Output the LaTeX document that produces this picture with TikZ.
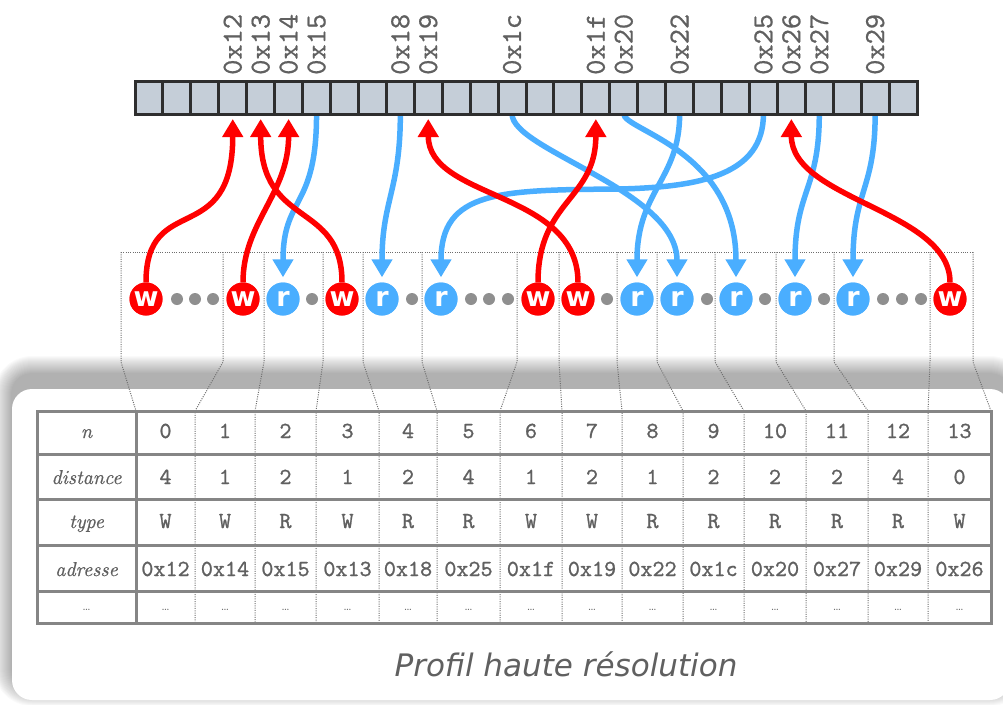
\documentclass[tikz,border=0pt]{standalone}
\usepackage{fontspec}
\newfontfamily\dejavu{DejaVu Sans}[ItalicFont={DejaVu Sans Oblique},BoldFont={DejaVu Sans Bold}]
\newfontfamily\codefont{lmmono10-regular.otf}[FakeBold=1]
\newfontfamily\labfont{lmmono10-regular.otf}[FakeBold=0.6]
\newfontfamily\headfont{lmroman10-italic.otf}[FakeBold=0.6]
\usetikzlibrary{arrows.meta}
\definecolor{wred}{HTML}{FF0000}
\definecolor{rblue}{HTML}{4AAEFF}
\definecolor{dotgray}{HTML}{8F8F8F}
\definecolor{cellfill}{HTML}{C5CED8}
\definecolor{cellline}{HTML}{2E2E2E}
\definecolor{txtgray}{HTML}{606060}
\definecolor{tabline}{HTML}{858585}
\definecolor{guide}{HTML}{6E6E6E}
\begin{document}
\begin{tikzpicture}[x=1pt,y=-1pt,
  memcell/.style={draw=cellline, fill=cellfill, line width=3pt, minimum width=27.93pt, minimum height=33pt, inner sep=0pt, outer sep=0pt},
  addr/.style={rotate=90, anchor=west, inner sep=0pt, text=txtgray, font=\fontsize{29}{29}\selectfont\labfont},
  wop/.style={circle, fill=wred, minimum size=33pt, inner sep=0pt, text=white, font=\fontsize{27}{27}\selectfont\dejavu\bfseries},
  rop/.style={wop, fill=rblue},
  gapdot/.style={circle, fill=dotgray, minimum size=12pt, inner sep=0pt},
  warrow/.style={draw=wred, line width=5.5pt, -{Triangle[length=18pt,width=20pt]}, shorten >=5pt},
  rarrow/.style={warrow, draw=rblue},
  guideline/.style={draw=guide, line width=1pt, dash pattern=on 1pt off 1.3pt},
  tabrule/.style={draw=tabline, line width=3pt},
  cellnum/.style={anchor=base, text=txtgray, font=\fontsize{23}{23}\selectfont\codefont, inner sep=0pt},
  headtxt/.style={anchor=base, text=txtgray, font=\fontsize{20}{20}\selectfont\headfont, inner sep=0pt},
  elli/.style={anchor=base, text=txtgray, font=\fontsize{13}{13}\selectfont, inner sep=0pt},
]
\useasboundingbox (0,0) rectangle (1003,704);

% panel with shadow
\foreach \k in {1,...,18}{
  \fill[black, opacity=0.02, rounded corners={20pt+\k pt}] ({12-\k},{374-\k}) rectangle ({1010+\k},{688+\k});
}
\fill[white, rounded corners=20pt] (12,389) rectangle (1010,700);

% guide lines
\draw[guideline] (121,252) -- (973,252);
\draw[guideline] (121,252) -- (121,362) -- (136,411);
\draw[guideline] (973,252) -- (973,362) -- (991,411);
\foreach \xt/\xb in {223/195, 264/255, 323/316, 363/379, 422/437, 517/500, 559/562, 617/622, 657/683, 715/744, 776/806, 834/868, 930/928}{
  \draw[guideline] (\xt,252) -- (\xt,362) -- (\xb,411) -- (\xb,623);
}

% table rules
\draw[tabrule] (37,411) rectangle (991,623);
\foreach \yy in {454,499,545,591}{
  \draw[tabrule] (37,\yy) -- (991,\yy);
}
\draw[tabrule] (136,411) -- (136,623);

% header column
\node[headtxt] (hn) at (86.5,438) {n};
\node[headtxt] (hd) at (86.5,484) {distance};
\node[headtxt] (ht) at (86.5,528) {type};
\node[headtxt] (ha) at (86.5,576) {adresse};
\node[elli] (he) at (86.5,610) {\ldots};

% table values
\foreach \k/\cx/\cdist/\ctype/\caddr in {
0/165.5/4/W/12, 1/225/1/W/14, 2/285.5/2/R/15, 3/347.5/1/W/13, 4/408/2/R/18,
5/468.5/4/R/25, 6/531/1/W/1f, 7/592/2/W/19, 8/652.5/1/R/22, 9/713.5/2/R/1c,
10/775/2/R/20, 11/837/2/R/27, 12/898/4/R/29, 13/959.5/0/W/26}{
  \node[cellnum] (tn\k) at (\cx,438) {\k};
  \node[cellnum] (td\k) at (\cx,484) {\cdist};
  \node[cellnum] (tt\k) at (\cx,528) {\ctype};
  \node[cellnum] (ta\k) at (\cx,576) {0x\caddr};
  \node[elli] (te\k) at (\cx,610) {\ldots};
}

% caption
\node[anchor=base, text=txtgray, font=\fontsize{31}{31}\selectfont\dejavu\itshape, inner sep=0pt] (cap) at (566,676) {Profil haute résolution};

% memory cell positions and nodes
\foreach \i in {0,...,27}{
  \coordinate (mc\i) at ({135+27.93*(\i+0.5)},97.5);
  \node[memcell] (m\i) at (mc\i) {};
}

% circles
\node[wop] (c0) at (146,299) {w};
\node[wop] (c1) at (243,299) {w};
\node[rop] (c2) at (283,299) {r};
\node[wop] (c3) at (342,299) {w};
\node[rop] (c4) at (382,299) {r};
\node[rop] (c5) at (441,299) {r};
\node[wop] (c6) at (538,299) {w};
\node[wop] (c7) at (578,299) {w};
\node[rop] (c8) at (637,299) {r};
\node[rop] (c9) at (677,299) {r};
\node[rop] (c10) at (736,299) {r};
\node[rop] (c11) at (795,299) {r};
\node[rop] (c12) at (853,299) {r};
\node[wop] (c13) at (950,299) {w};

% arrows (blue then red)
\draw[rarrow] (m6.south) .. controls +(0,96) and +(0,-87) .. (c2.north);
\draw[rarrow] (m9.south) .. controls +(0,76) and +(0,-82) .. (c4.north);
\draw[rarrow] (m22.south) .. controls +(0,61) and +(80,-2) .. (620,189) .. controls +(-120,1) and +(0,-92) .. (c5.north);
\draw[rarrow] (m13.south) .. controls +(0,36) and +(0,-92) .. (c9.north);
\draw[rarrow] (m17.south) .. controls +(0,16) and +(0,-132) .. (c10.north);
\draw[rarrow] (m19.south) .. controls +(0,66) and +(0,-92) .. (c8.north);
\draw[rarrow] (m24.south) .. controls +(0,76) and +(0,-92) .. (c11.north);
\draw[rarrow] (m26.south) .. controls +(0,76) and +(0,-92) .. (c12.north);

\draw[warrow] (c0.north) .. controls +(0,-92) and +(0,136) .. (m3.south);
\draw[warrow] (c1.north) .. controls +(0,-60) and +(0,80) .. (m5.south);
\draw[warrow] (c3.north) .. controls +(0,-82) and +(0,115) .. (m4.south);
\draw[warrow] (c7.north) .. controls +(0,-92) and +(0,86) .. (m10.south);
\draw[warrow] (c6.north) .. controls +(0,-82) and +(0,86) .. (m16.south);
\draw[warrow] (c13.north) .. controls +(0,-72) and +(0,86) .. (m23.south);

% redraw memory cells and circles on top of the connectors
\foreach \i in {0,...,27}{
  \node[memcell] (mm\i) at (mc\i) {};
}
\node[wop] (cc0) at (c0) {w};
\node[wop] (cc1) at (c1) {w};
\node[rop] (cc2) at (c2) {r};
\node[wop] (cc3) at (c3) {w};
\node[rop] (cc4) at (c4) {r};
\node[rop] (cc5) at (c5) {r};
\node[wop] (cc6) at (c6) {w};
\node[wop] (cc7) at (c7) {w};
\node[rop] (cc8) at (c8) {r};
\node[rop] (cc9) at (c9) {r};
\node[rop] (cc10) at (c10) {r};
\node[rop] (cc11) at (c11) {r};
\node[rop] (cc12) at (c12) {r};
\node[wop] (cc13) at (c13) {w};

% gap dots
\foreach \gx [count=\gi] in {177,195,213,312,412,471,489,508,607,707,765,824,883,902,921}{
  \node[gapdot] (g\gi) at (\gx,299) {};
}

% address labels
\foreach \i/\lab in {3/12,4/13,5/14,6/15,9/18,10/19,13/1c,16/1f,17/20,19/22,22/25,23/26,24/27,26/29}{
  \node[addr] (l\lab) at ([yshift=6pt]m\i.north) {0x\lab};
}
\end{tikzpicture}
\end{document}
